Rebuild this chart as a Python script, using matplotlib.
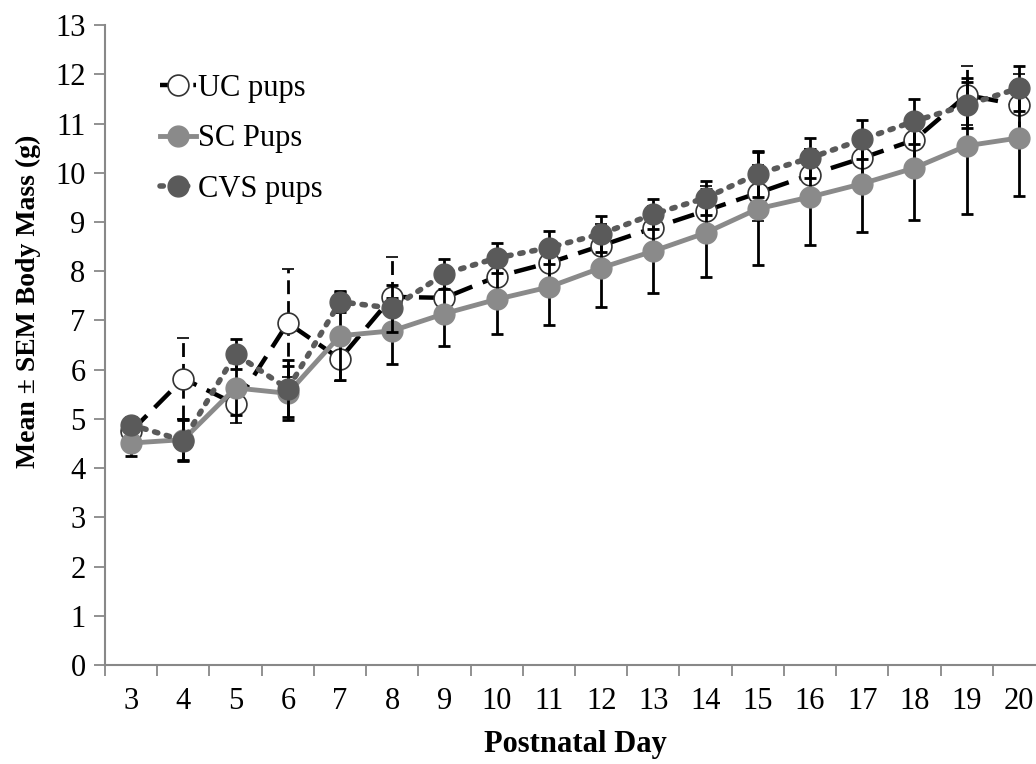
import matplotlib.pyplot as plt
import numpy as np

plt.rcParams['font.family'] = ['Liberation Serif', 'DejaVu Serif']

# Datos
days = [3, 4, 5, 6, 7, 8, 9, 10, 11, 12, 13, 14, 15, 16, 17, 18, 19, 20]

uc = [4.75, 5.82, 5.30, 6.95, 6.22, 7.48, 7.46, 7.89, 8.17, 8.52, 8.88, 9.23,
      9.59, 9.96, 10.30, 10.67, 11.58, 11.38]
uc_err = [0.25, 0.82, 0.38, 1.10, 0.45, 0.82, 0.45, 0.40, 0.40, 0.45, 0.45, 0.50,
          0.57, 0.53, 0.50, 0.50, 0.60, 0.62]

sc = [4.51, 4.58, 5.63, 5.52, 6.69, 6.79, 7.14, 7.43, 7.68, 8.07, 8.41, 8.78,
      9.27, 9.51, 9.78, 10.10, 10.55, 10.71]
sc_err = [0.27, 0.42, 0.55, 0.55, 0.90, 0.67, 0.66, 0.70, 0.77, 0.80, 0.85, 0.89,
          1.15, 0.97, 0.98, 1.06, 1.38, 1.18]

cvs = [4.88, 4.56, 6.32, 5.61, 7.38, 7.25, 7.95, 8.27, 8.48, 8.76, 9.16, 9.49,
       9.98, 10.30, 10.68, 11.05, 11.38, 11.72]
cvs_err = [0.15, 0.42, 0.30, 0.58, 0.20, 0.48, 0.30, 0.30, 0.34, 0.36, 0.30, 0.35,
           0.47, 0.41, 0.39, 0.46, 0.47, 0.46]

x = np.arange(len(days))

fig = plt.figure(figsize=(10.36, 7.64), dpi=100)
ax = fig.add_axes([0.1014, 0.1296, 0.9073, 0.8374])

# UC pups: linea discontinua, marcador blanco
l1 = ax.errorbar(x, uc, yerr=uc_err, color='black', ls=(0, (5, 2.5)), lw=3.2,
                 marker='o', ms=15, mfc='white', mec='#333333', mew=1.2,
                 ecolor='black', elinewidth=2, capsize=4, capthick=2,
                 label='UC pups', zorder=3)
l1[2][0].set_linestyle((0, (5, 2.5)))

# SC pups: linea continua gris
ax.errorbar(x, sc, yerr=sc_err, color='#8a8a8a', ls='-', lw=3.5,
            marker='o', ms=15, mfc='#8a8a8a', mec='#8a8a8a',
            ecolor='black', elinewidth=2, capsize=4, capthick=2,
            label='SC Pups', zorder=4)

# CVS pups: linea punteada gris oscuro
ax.errorbar(x, cvs, yerr=cvs_err, color='#5a5a5a', ls=(0, (0.6, 1.6)), lw=4,
            dash_capstyle='round', marker='o', ms=15, mfc='#5a5a5a', mec='#5a5a5a',
            ecolor='black', elinewidth=2, capsize=4, capthick=2,
            label='CVS pups', zorder=5)

ax.set_xlim(-0.5, len(days) - 0.5)
ax.set_ylim(0, 13)
ax.set_yticks(range(0, 14))
ax.set_xticks(x)
ax.set_xticklabels([str(d) for d in days])
ax.set_xticks(np.arange(-0.5, len(days), 1), minor=True)
ax.tick_params(axis='x', which='major', length=0, labelsize=22, pad=16)
ax.tick_params(axis='x', which='minor', length=8, width=1.3, color='#888888')
ax.tick_params(axis='y', length=8, width=1.3, color='#888888', labelsize=22, pad=6)

for s in ['top', 'right']:
    ax.spines[s].set_visible(False)
for s in ['left', 'bottom']:
    ax.spines[s].set_color('#888888')
    ax.spines[s].set_linewidth(1.5)

ax.set_xlabel('Postnatal Day', fontsize=22, fontweight='bold', labelpad=10)
ax.set_ylabel('Mean ± SEM Body Mass (g)', fontsize=20, fontweight='bold')
ax.yaxis.set_label_coords(-0.068, 0.569)

handles, labels = ax.get_legend_handles_labels()
handles = [h[0] for h in handles]
ax.legend(handles, labels, loc='upper left', bbox_to_anchor=(0.045, 0.943),
          frameon=False, fontsize=22, handlelength=1.2, handletextpad=0.05,
          labelspacing=0.7, borderaxespad=0)

plt.savefig('out.png', dpi=100)
